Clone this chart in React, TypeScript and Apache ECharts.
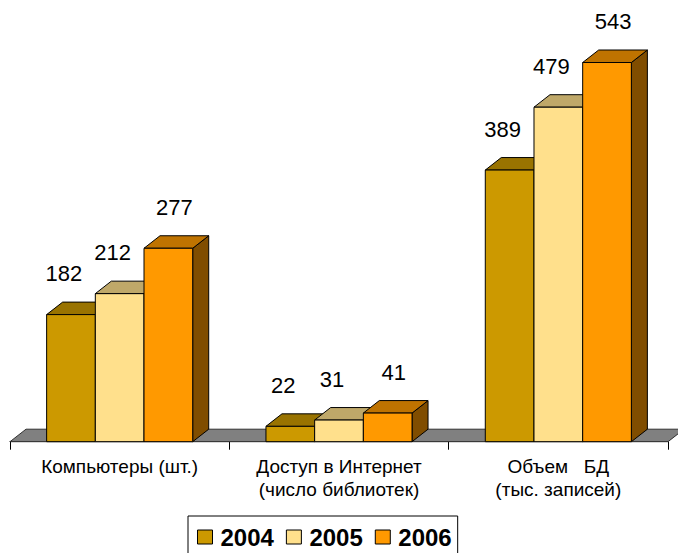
import React, { useEffect, useRef } from "react";
import * as echarts from "echarts";

const categories = [
  "Компьютеры (шт.)",
  "Доступ в Интернет\n(число библиотек)",
  "Объем   БД\n(тыс. записей)",
];
const years = ["2004", "2005", "2006"];
const values2004 = [182, 22, 389];
const values2005 = [212, 31, 479];
const values2006 = [277, 41, 543];
const seriesValues = [values2004, values2005, values2006];
const frontColors = ["#CC9900", "#FFE08C", "#FF9900"];

const FONT = "'Liberation Sans', Arial, sans-serif";
const DX = 16;
const DY = 12.5;
const LABEL_SHIFT = [-7, -7, 6];

function shade(hex: string, f: number) {
  const n = parseInt(hex.slice(1), 16);
  const r = Math.round(((n >> 16) & 255) * f);
  const g = Math.round(((n >> 8) & 255) * f);
  const b = Math.round((n & 255) * f);
  return `rgb(${r},${g},${b})`;
}

function makeBarRender(s: number) {
  const front = frontColors[s];
  const topC = shade(front, 0.75);
  const sideC = shade(front, 0.5);
  return (params: any, api: any) => {
    const idx = api.value(0);
    const val = api.value(1);
    const base = api.coord([idx, 0]);
    const top = api.coord([idx, val]);
    const catW = api.size([1, 0])[0];
    const bw = catW * 0.222;
    const x0 = base[0] + (s - 1.5) * bw;
    const yt = top[1];
    const yb = base[1];
    const stroke = { stroke: "#000", lineWidth: 1 };
    return {
      type: "group",
      children: [
        {
          type: "polygon",
          shape: {
            points: [
              [x0 + bw, yt],
              [x0 + bw + DX, yt - DY],
              [x0 + bw + DX, yb - DY],
              [x0 + bw, yb],
            ],
          },
          style: { fill: sideC, ...stroke },
        },
        {
          type: "polygon",
          shape: {
            points: [
              [x0, yt],
              [x0 + bw, yt],
              [x0 + bw + DX, yt - DY],
              [x0 + DX, yt - DY],
            ],
          },
          style: { fill: topC, ...stroke },
        },
        {
          type: "rect",
          shape: { x: x0, y: yt, width: bw, height: yb - yt },
          style: { fill: front, ...stroke },
        },
        {
          type: "text",
          x: x0 + bw / 2 + LABEL_SHIFT[s],
          y: yt - 41,
          style: {
            text: String(val),
            fontSize: 22,
            fontFamily: FONT,
            fill: "#000",
            align: "center",
            verticalAlign: "middle",
          },
        },
      ],
    };
  };
}

const floorRender = (params: any, api: any) => {
  const cs = params.coordSys;
  const yb = api.coord([0, 0])[1];
  const xl = cs.x;
  const xr = cs.x + cs.width;
  return {
    type: "polygon",
    shape: {
      points: [
        [xl, yb],
        [xr, yb],
        [xr + DX, yb - DY],
        [xl + DX, yb - DY],
      ],
    },
    style: { fill: "#808080", stroke: "#303030", lineWidth: 1 },
  };
};

export default function App() {
  const ref = useRef<HTMLDivElement>(null);
  useEffect(() => {
    if (!ref.current) return;
    const chart = echarts.init(ref.current, undefined, { renderer: "svg" });
    const option: any = {
      animation: false,
      backgroundColor: "#fff",
      grid: { left: 10, right: 10, top: 22.7, bottom: 111.3 },
      xAxis: {
        type: "category",
        data: categories,
        boundaryGap: true,
        axisLine: { show: true, lineStyle: { color: "#000", width: 1 } },
        axisTick: { show: true, length: 8, interval: 0, lineStyle: { color: "#000" } },
        axisLabel: {
          interval: 0,
          fontSize: 19,
          fontFamily: FONT,
          color: "#000",
          margin: 13,
          lineHeight: 23,
        },
        splitLine: { show: false },
      },
      yAxis: { type: "value", min: 0, max: 600, show: false },
      legend: {
        left: 188,
        top: 516,
        orient: "horizontal",
        padding: [7, 6, 7, 9],
        borderColor: "#000",
        borderWidth: 1,
        backgroundColor: "#fff",
        itemWidth: 15,
        itemHeight: 14,
        itemGap: 12,
        selectedMode: false,
        textStyle: {
          fontSize: 24,
          fontWeight: "bold",
          fontFamily: FONT,
          color: "#000",
          lineHeight: 28,
          padding: [0, 0, 0, 3],
        },
        data: years.map((y, i) => ({
          name: y,
          icon: "rect",
          itemStyle: { color: frontColors[i], borderColor: "#000", borderWidth: 1 },
        })),
      },
      series: [
        {
          type: "custom",
          name: "floor",
          renderItem: floorRender,
          data: [[0, 0]],
          encode: { x: 0, y: 1 },
          silent: true,
          z: 1,
        },
        ...years.map((y, s) => ({
          type: "custom",
          name: y,
          renderItem: makeBarRender(s),
          data: seriesValues[s].map((v, i) => [i, v]),
          encode: { x: 0, y: 1 },
          itemStyle: { color: frontColors[s] },
          z: 2,
        })),
      ],
    };
    chart.setOption(option);
    return () => chart.dispose();
  }, []);
  return (
    <div
      ref={ref}
      style={{ position: "fixed", left: 0, top: 0, width: 678, height: 553 }}
    />
  );
}
